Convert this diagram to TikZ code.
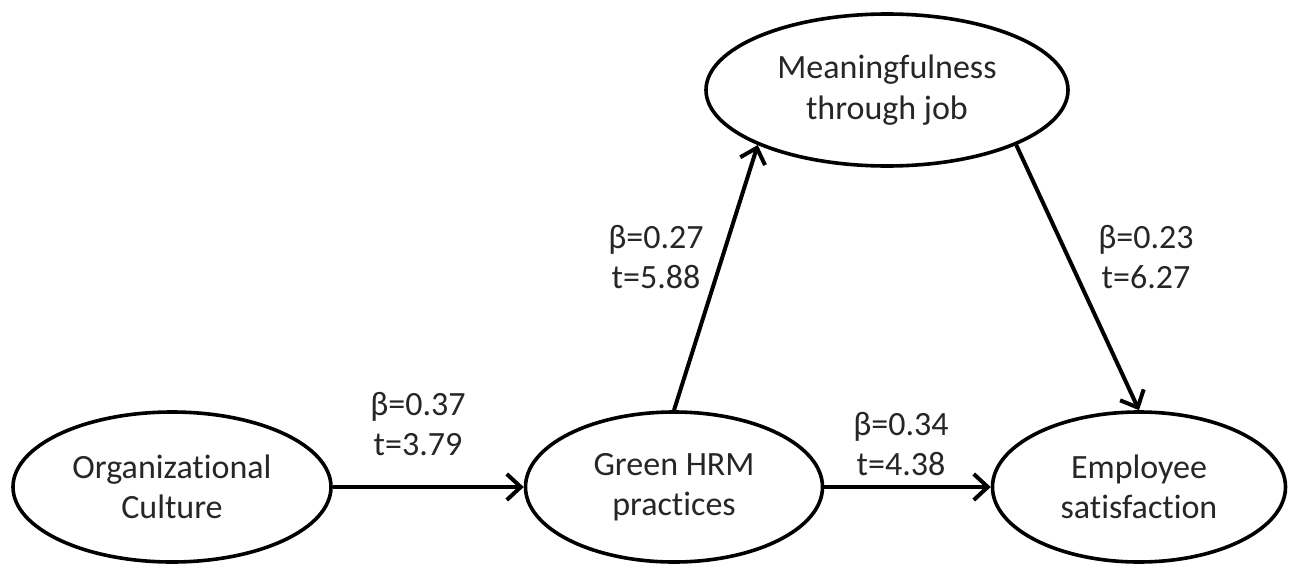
\documentclass[tikz,border=0pt]{standalone}
\usepackage{fontspec}
\setmainfont{Carlito}[Ligatures={NoCommon}]
\usetikzlibrary{shapes.geometric,arrows.meta}
\begin{document}
\begin{tikzpicture}[x=1pt,y=-1pt,
  latent/.style={ellipse, draw=black, line width=3.6pt, inner sep=0pt, align=center,
    text=black!85, font=\fontsize{34}{40.5}\selectfont},
  patharrow/.style={draw=black, line width=4pt,
    -{Straight Barb[length=14pt,width=26pt,line width=4pt]}},
  coef/.style={align=center, text=black!85, font=\fontsize{34}{40.5}\selectfont}]
\useasboundingbox[fill=white] (0,0) rectangle (1291,565);
\node[latent, minimum width=318pt, minimum height=150pt] (oc) at (172,487) {Organizational\\Culture};
\node[latent, minimum width=297pt, minimum height=150pt] (gh) at (674,487) {Green HRM\\practices};
\node[latent, minimum width=293pt, minimum height=150pt] (es) at (1139,487) {Employee\\satisfaction};
\node[latent, minimum width=362pt, minimum height=152pt] (mf) at (887,90) {Meaningfulness\\through job};
\draw[patharrow] (oc.east) -- (gh.west);
\draw[patharrow] (gh.east) -- (es.west);
\draw[patharrow] (gh.north) -- (mf.south west);
\draw[patharrow] (mf.south east) -- (es.north);
\node[coef] (l1) at (418,424) {β=0.37\\t=3.79};
\node[coef] (l2) at (901,444) {β=0.34\\t=4.38};
\node[coef] (l3) at (656,257) {β=0.27\\t=5.88};
\node[coef] (l4) at (1146,257) {β=0.23\\t=6.27};
\end{tikzpicture}
\end{document}
